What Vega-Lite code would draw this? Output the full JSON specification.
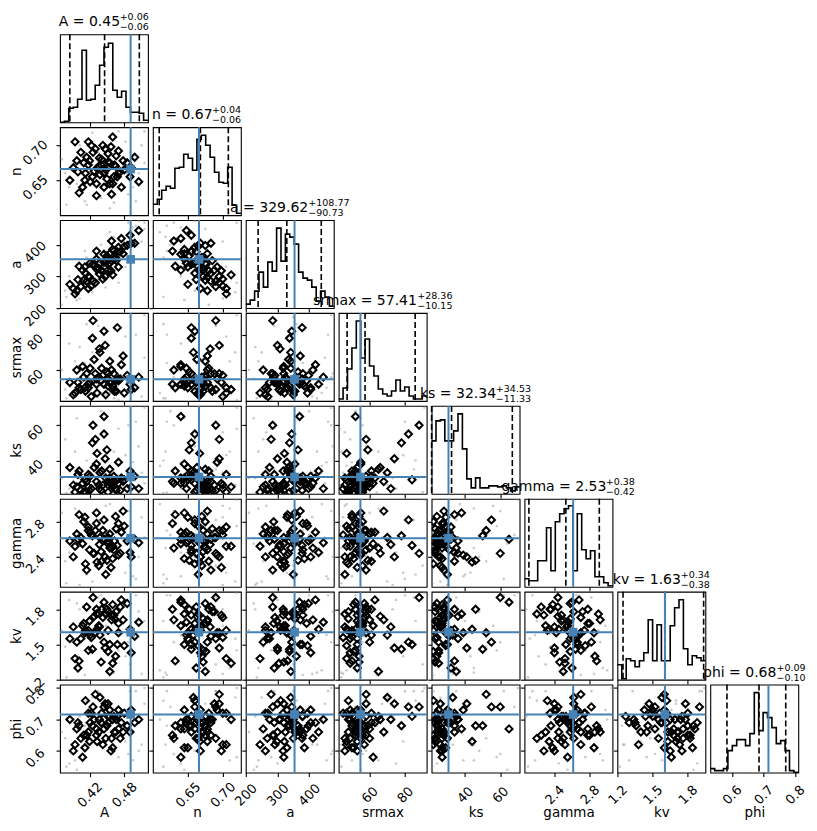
{
"$schema": "https://vega.github.io/schema/vega-lite/v6.json",
"padding": {"left": 8, "top": 11.3, "right": 5, "bottom": 5},
"background": "white",
"config": {
  "font": "DejaVu Sans",
  "view": {"stroke": "black", "strokeWidth": 1.1},
  "axis": {"domain": false, "grid": false, "ticks": true, "tickColor": "black", "tickSize": 4, "tickWidth": 1.1,
    "labelFont": "DejaVu Sans", "labelFontSize": 13, "labelColor": "black", "labelAngle": -45, "labelAlign": "center", "labelBaseline": "middle",
    "labelOverlap": false, "labelBound": false, "labelFlush": false, "labelPadding": 18,
    "titleFont": "DejaVu Sans", "titleFontSize": 13.5, "titleFontWeight": "normal", "titleColor": "black", "titleBaseline": "alphabetic"},
  "axisX": {"titleY": 44, "titleX": 44, "titleAlign": "center"},
  "axisY": {"titleX": -40, "titleY": 44, "titleAngle": -90, "titleAlign": "center", "labelOffset": 7, "labelPadding": 21},
  "title": {"anchor": "start", "frame": "group", "font": "DejaVu Sans", "fontSize": 14, "fontWeight": "normal", "color": "black",
    "subtitleFont": "DejaVu Sans", "subtitleFontSize": 9.5, "subtitleColor": "black", "subtitleLineHeight": 10, "subtitlePadding": -17, "offset": -1.5}
},
"datasets": {
"truth": [{"A":0.491,"n":0.666,"a":354,"srmax":54.8,"ks":30.6,"gamma":2.613,"kv":1.605,"phi":0.716}],
"quant": [
 {"q":0.16,"A":0.386,"n":0.609,"a":238.9,"srmax":47.26,"ks":21.01,"gamma":2.11,"kv":1.248,"phi":0.584},
 {"q":0.5,"A":0.446,"n":0.668,"a":329.6,"srmax":57.41,"ks":32.34,"gamma":2.53,"kv":1.605,"phi":0.686},
 {"q":0.84,"A":0.506,"n":0.708,"a":438.4,"srmax":85.77,"ks":66.87,"gamma":2.91,"kv":1.935,"phi":0.771}],
"samples": [
{"A":0.452,"n":0.668,"a":352,"srmax":55,"ks":28,"gamma":2.55,"kv":1.62,"phi":0.69},
{"A":0.418,"n":0.672,"a":300,"srmax":52,"ks":25,"gamma":2.70,"kv":1.45,"phi":0.66},
{"A":0.462,"n":0.655,"a":380,"srmax":58,"ks":31,"gamma":2.48,"kv":1.75,"phi":0.71},
{"A":0.405,"n":0.690,"a":268,"srmax":49,"ks":23,"gamma":2.62,"kv":1.55,"phi":0.64},
{"A":0.441,"n":0.680,"a":318,"srmax":61,"ks":34,"gamma":2.35,"kv":1.80,"phi":0.72},
{"A":0.470,"n":0.660,"a":392,"srmax":54,"ks":27,"gamma":2.78,"kv":1.68,"phi":0.67},
{"A":0.395,"n":0.705,"a":245,"srmax":47,"ks":22,"gamma":2.52,"kv":1.38,"phi":0.62},
{"A":0.428,"n":0.663,"a":335,"srmax":66,"ks":36,"gamma":2.44,"kv":1.74,"phi":0.70},
{"A":0.455,"n":0.645,"a":372,"srmax":53,"ks":30,"gamma":2.66,"kv":1.50,"phi":0.73},
{"A":0.485,"n":0.675,"a":398,"srmax":57,"ks":24,"gamma":2.58,"kv":1.85,"phi":0.68},
{"A":0.412,"n":0.650,"a":330,"srmax":50,"ks":29,"gamma":2.85,"kv":1.60,"phi":0.61},
{"A":0.447,"n":0.695,"a":300,"srmax":74,"ks":41,"gamma":2.40,"kv":1.47,"phi":0.75},
{"A":0.436,"n":0.670,"a":325,"srmax":56,"ks":26,"gamma":2.30,"kv":1.66,"phi":0.66},
{"A":0.466,"n":0.685,"a":350,"srmax":48,"ks":23,"gamma":2.72,"kv":1.78,"phi":0.70},
{"A":0.400,"n":0.662,"a":290,"srmax":53,"ks":32,"gamma":2.60,"kv":1.30,"phi":0.69},
{"A":0.458,"n":0.630,"a":412,"srmax":60,"ks":27,"gamma":2.50,"kv":1.71,"phi":0.64},
{"A":0.423,"n":0.700,"a":270,"srmax":45,"ks":24,"gamma":2.65,"kv":1.56,"phi":0.72},
{"A":0.490,"n":0.655,"a":430,"srmax":52,"ks":34,"gamma":2.45,"kv":1.63,"phi":0.66},
{"A":0.445,"n":0.660,"a":345,"srmax":82,"ks":55,"gamma":2.82,"kv":1.52,"phi":0.74},
{"A":0.415,"n":0.683,"a":285,"srmax":58,"ks":28,"gamma":2.25,"kv":1.82,"phi":0.65},
{"A":0.452,"n":0.676,"a":338,"srmax":51,"ks":22,"gamma":2.58,"kv":1.44,"phi":0.71},
{"A":0.475,"n":0.640,"a":420,"srmax":63,"ks":30,"gamma":2.68,"kv":1.88,"phi":0.69},
{"A":0.392,"n":0.668,"a":262,"srmax":46,"ks":26,"gamma":2.40,"kv":1.65,"phi":0.60},
{"A":0.432,"n":0.645,"a":355,"srmax":55,"ks":38,"gamma":2.90,"kv":1.76,"phi":0.67},
{"A":0.460,"n":0.712,"a":305,"srmax":49,"ks":25,"gamma":2.52,"kv":1.34,"phi":0.70},
{"A":0.438,"n":0.658,"a":342,"srmax":70,"ks":33,"gamma":2.62,"kv":1.58,"phi":0.77},
{"A":0.420,"n":0.678,"a":298,"srmax":53,"ks":23,"gamma":2.48,"kv":1.70,"phi":0.63},
{"A":0.480,"n":0.665,"a":395,"srmax":47,"ks":29,"gamma":2.75,"kv":1.49,"phi":0.72},
{"A":0.450,"n":0.652,"a":365,"srmax":59,"ks":46,"gamma":2.36,"kv":1.80,"phi":0.68},
{"A":0.408,"n":0.640,"a":320,"srmax":62,"ks":27,"gamma":2.55,"kv":1.66,"phi":0.58},
{"A":0.465,"n":0.670,"a":360,"srmax":54,"ks":24,"gamma":2.86,"kv":1.40,"phi":0.66},
{"A":0.426,"n":0.690,"a":285,"srmax":88,"ks":60,"gamma":2.44,"kv":1.90,"phi":0.74},
{"A":0.498,"n":0.683,"a":405,"srmax":50,"ks":31,"gamma":2.60,"kv":1.57,"phi":0.69},
{"A":0.443,"n":0.700,"a":292,"srmax":57,"ks":26,"gamma":2.70,"kv":1.73,"phi":0.62},
{"A":0.413,"n":0.660,"a":310,"srmax":48,"ks":22,"gamma":2.32,"kv":1.62,"phi":0.76},
{"A":0.455,"n":0.675,"a":342,"srmax":65,"ks":35,"gamma":2.50,"kv":1.27,"phi":0.71},
{"A":0.432,"n":0.628,"a":380,"srmax":52,"ks":28,"gamma":2.78,"kv":1.80,"phi":0.65},
{"A":0.470,"n":0.692,"a":330,"srmax":55,"ks":39,"gamma":2.42,"kv":1.60,"phi":0.73},
{"A":0.398,"n":0.678,"a":255,"srmax":60,"ks":25,"gamma":2.66,"kv":1.52,"phi":0.67},
{"A":0.448,"n":0.665,"a":350,"srmax":46,"ks":30,"gamma":2.20,"kv":1.76,"phi":0.64},
{"A":0.505,"n":0.648,"a":445,"srmax":56,"ks":24,"gamma":2.56,"kv":1.69,"phi":0.70},
{"A":0.425,"n":0.655,"a":338,"srmax":78,"ks":50,"gamma":2.64,"kv":1.46,"phi":0.68},
{"A":0.460,"n":0.645,"a":385,"srmax":51,"ks":27,"gamma":2.38,"kv":1.84,"phi":0.61},
{"A":0.418,"n":0.705,"a":262,"srmax":50,"ks":32,"gamma":2.74,"kv":1.62,"phi":0.72},
{"A":0.440,"n":0.672,"a":320,"srmax":54,"ks":23,"gamma":2.46,"kv":1.35,"phi":0.69},
{"A":0.478,"n":0.678,"a":372,"srmax":68,"ks":28,"gamma":2.92,"kv":1.71,"phi":0.66},
{"A":0.386,"n":0.650,"a":275,"srmax":53,"ks":36,"gamma":2.58,"kv":1.55,"phi":0.70},
{"A":0.452,"n":0.688,"a":320,"srmax":58,"ks":26,"gamma":2.62,"kv":1.78,"phi":0.75},
{"A":0.433,"n":0.667,"a":322,"srmax":47,"ks":44,"gamma":2.34,"kv":1.63,"phi":0.63},
{"A":0.468,"n":0.655,"a":378,"srmax":84,"ks":29,"gamma":2.53,"kv":1.50,"phi":0.71},
{"A":0.410,"n":0.675,"a":288,"srmax":56,"ks":22,"gamma":2.80,"kv":1.68,"phi":0.65},
{"A":0.445,"n":0.640,"a":370,"srmax":52,"ks":65,"gamma":2.60,"kv":1.86,"phi":0.67},
{"A":0.492,"n":0.668,"a":405,"srmax":49,"ks":25,"gamma":2.40,"kv":1.43,"phi":0.73},
{"A":0.421,"n":0.648,"a":342,"srmax":61,"ks":31,"gamma":2.68,"kv":1.58,"phi":0.69},
{"A":0.457,"n":0.698,"a":318,"srmax":53,"ks":27,"gamma":2.28,"kv":1.75,"phi":0.60},
{"A":0.437,"n":0.682,"a":308,"srmax":72,"ks":24,"gamma":2.54,"kv":1.65,"phi":0.70},
{"A":0.402,"n":0.632,"a":332,"srmax":50,"ks":34,"gamma":2.88,"kv":1.36,"phi":0.68},
{"A":0.473,"n":0.662,"a":378,"srmax":55,"ks":23,"gamma":2.44,"kv":1.82,"phi":0.64},
{"A":0.430,"n":0.695,"a":280,"srmax":58,"ks":52,"gamma":2.70,"kv":1.60,"phi":0.78},
{"A":0.463,"n":0.672,"a":355,"srmax":48,"ks":28,"gamma":2.58,"kv":1.72,"phi":0.66}
],
"tail": [
{"A":0.380,"n":0.615,"a":235,"srmax":44,"ks":21.5,"gamma":2.10,"kv":1.22,"phi":0.55},
{"A":0.515,"n":0.720,"a":470,"srmax":91,"ks":70,"gamma":3.05,"kv":1.94,"phi":0.80},
{"A":0.395,"n":0.710,"a":240,"srmax":65,"ks":45,"gamma":2.95,"kv":1.30,"phi":0.57},
{"A":0.500,"n":0.620,"a":460,"srmax":80,"ks":62,"gamma":2.15,"kv":1.92,"phi":0.79},
{"A":0.385,"n":0.640,"a":300,"srmax":75,"ks":24,"gamma":2.45,"kv":1.88,"phi":0.56},
{"A":0.510,"n":0.700,"a":410,"srmax":45,"ks":33,"gamma":2.85,"kv":1.25,"phi":0.62},
{"A":0.415,"n":0.615,"a":360,"srmax":86,"ks":40,"gamma":2.20,"kv":1.70,"phi":0.76},
{"A":0.470,"n":0.720,"a":280,"srmax":43,"ks":58,"gamma":2.75,"kv":1.45,"phi":0.58},
{"A":0.440,"n":0.625,"a":400,"srmax":52,"ks":68,"gamma":2.65,"kv":1.92,"phi":0.74},
{"A":0.490,"n":0.690,"a":350,"srmax":90,"ks":22,"gamma":2.30,"kv":1.33,"phi":0.79},
{"A":0.372,"n":0.680,"a":210,"srmax":60,"ks":30,"gamma":2.90,"kv":1.62,"phi":0.66},
{"A":0.505,"n":0.660,"a":475,"srmax":58,"ks":48,"gamma":2.40,"kv":1.78,"phi":0.60},
{"A":0.425,"n":0.718,"a":250,"srmax":70,"ks":26,"gamma":2.12,"kv":1.55,"phi":0.77},
{"A":0.455,"n":0.610,"a":440,"srmax":47,"ks":37,"gamma":3.00,"kv":1.28,"phi":0.70},
{"A":0.398,"n":0.645,"a":225,"srmax":55,"ks":64,"gamma":2.55,"kv":1.85,"phi":0.54},
{"A":0.482,"n":0.705,"a":330,"srmax":79,"ks":43,"gamma":2.22,"kv":1.40,"phi":0.63},
{"A":0.448,"n":0.700,"a":265,"srmax":46,"ks":56,"gamma":2.98,"kv":1.66,"phi":0.73},
{"A":0.412,"n":0.620,"a":380,"srmax":64,"ks":21.8,"gamma":2.70,"kv":1.24,"phi":0.68},
{"A":0.495,"n":0.640,"a":455,"srmax":50,"ks":39,"gamma":2.18,"kv":1.58,"phi":0.57},
{"A":0.435,"n":0.690,"a":290,"srmax":85,"ks":35,"gamma":2.82,"kv":1.90,"phi":0.79},
{"A":0.378,"n":0.660,"a":255,"srmax":49,"ks":52,"gamma":2.35,"kv":1.48,"phi":0.64},
{"A":0.515,"n":0.675,"a":450,"srmax":67,"ks":27,"gamma":2.62,"kv":1.70,"phi":0.75},
{"A":0.462,"n":0.618,"a":425,"srmax":44,"ks":45,"gamma":2.50,"kv":1.26,"phi":0.62},
{"A":0.403,"n":0.700,"a":230,"srmax":73,"ks":30,"gamma":2.08,"kv":1.80,"phi":0.71},
{"A":0.487,"n":0.630,"a":470,"srmax":56,"ks":60,"gamma":2.92,"kv":1.52,"phi":0.59}
],
"hist": [
{"p":"A","x":0.369,"c":0},{"p":"A","x":0.3766,"c":1},{"p":"A","x":0.3842,"c":14},{"p":"A","x":0.3918,"c":15},{"p":"A","x":0.3994,"c":23},{"p":"A","x":0.407,"c":72},{"p":"A","x":0.4146,"c":22},{"p":"A","x":0.4222,"c":23},{"p":"A","x":0.4298,"c":37},{"p":"A","x":0.4374,"c":57},{"p":"A","x":0.445,"c":75},{"p":"A","x":0.4526,"c":79},{"p":"A","x":0.4602,"c":32},{"p":"A","x":0.4678,"c":25},{"p":"A","x":0.4754,"c":31},{"p":"A","x":0.483,"c":15},{"p":"A","x":0.4906,"c":10},{"p":"A","x":0.4982,"c":10},{"p":"A","x":0.5058,"c":9},{"p":"A","x":0.5134,"c":2},{"p":"A","x":0.521,"c":2},
{"p":"n","x":0.6,"c":11},{"p":"n","x":0.6063,"c":16},{"p":"n","x":0.6126,"c":25},{"p":"n","x":0.6189,"c":29},{"p":"n","x":0.6252,"c":27},{"p":"n","x":0.6315,"c":47},{"p":"n","x":0.6378,"c":48},{"p":"n","x":0.6441,"c":61},{"p":"n","x":0.6504,"c":57},{"p":"n","x":0.6567,"c":45},{"p":"n","x":0.663,"c":76},{"p":"n","x":0.6693,"c":80},{"p":"n","x":0.6756,"c":70},{"p":"n","x":0.6819,"c":58},{"p":"n","x":0.6882,"c":43},{"p":"n","x":0.6945,"c":33},{"p":"n","x":0.7008,"c":32},{"p":"n","x":0.7071,"c":48},{"p":"n","x":0.7134,"c":10},{"p":"n","x":0.7197,"c":2},{"p":"n","x":0.726,"c":2},
{"p":"a","x":200,"c":4},{"p":"a","x":213.9,"c":8},{"p":"a","x":227.8,"c":17},{"p":"a","x":241.7,"c":36},{"p":"a","x":255.6,"c":21},{"p":"a","x":269.5,"c":46},{"p":"a","x":283.4,"c":37},{"p":"a","x":297.3,"c":80},{"p":"a","x":311.2,"c":47},{"p":"a","x":325.1,"c":74},{"p":"a","x":339,"c":71},{"p":"a","x":352.9,"c":64},{"p":"a","x":366.8,"c":36},{"p":"a","x":380.7,"c":30},{"p":"a","x":394.6,"c":28},{"p":"a","x":408.5,"c":21},{"p":"a","x":422.4,"c":7},{"p":"a","x":436.3,"c":17},{"p":"a","x":450.2,"c":11},{"p":"a","x":464.1,"c":2},{"p":"a","x":478,"c":2},
{"p":"srmax","x":42.5,"c":2},{"p":"srmax","x":44.99,"c":13},{"p":"srmax","x":47.48,"c":32},{"p":"srmax","x":49.97,"c":53},{"p":"srmax","x":52.46,"c":80},{"p":"srmax","x":54.95,"c":43},{"p":"srmax","x":57.44,"c":62},{"p":"srmax","x":59.93,"c":35},{"p":"srmax","x":62.42,"c":25},{"p":"srmax","x":64.91,"c":12},{"p":"srmax","x":67.4,"c":7},{"p":"srmax","x":69.89,"c":5},{"p":"srmax","x":72.38,"c":10},{"p":"srmax","x":74.87,"c":21},{"p":"srmax","x":77.36,"c":10},{"p":"srmax","x":79.85,"c":14},{"p":"srmax","x":82.34,"c":5},{"p":"srmax","x":84.83,"c":2},{"p":"srmax","x":87.32,"c":2},{"p":"srmax","x":89.81,"c":5},{"p":"srmax","x":92.3,"c":5},
{"p":"ks","x":21,"c":53},{"p":"ks","x":23.5,"c":73},{"p":"ks","x":26,"c":74},{"p":"ks","x":28.5,"c":53},{"p":"ks","x":31,"c":53},{"p":"ks","x":33.5,"c":63},{"p":"ks","x":36,"c":80},{"p":"ks","x":38.5,"c":45},{"p":"ks","x":41,"c":15},{"p":"ks","x":43.5,"c":6},{"p":"ks","x":46,"c":16},{"p":"ks","x":48.5,"c":6},{"p":"ks","x":51,"c":6},{"p":"ks","x":53.5,"c":8},{"p":"ks","x":56,"c":8},{"p":"ks","x":58.5,"c":7},{"p":"ks","x":61,"c":8},{"p":"ks","x":63.5,"c":6},{"p":"ks","x":66,"c":3},{"p":"ks","x":68.5,"c":7},{"p":"ks","x":71,"c":7},
{"p":"gamma","x":2.06,"c":8},{"p":"gamma","x":2.11,"c":6},{"p":"gamma","x":2.16,"c":6},{"p":"gamma","x":2.21,"c":26},{"p":"gamma","x":2.26,"c":26},{"p":"gamma","x":2.31,"c":59},{"p":"gamma","x":2.36,"c":16},{"p":"gamma","x":2.41,"c":65},{"p":"gamma","x":2.46,"c":73},{"p":"gamma","x":2.51,"c":78},{"p":"gamma","x":2.56,"c":81},{"p":"gamma","x":2.61,"c":16},{"p":"gamma","x":2.66,"c":73},{"p":"gamma","x":2.71,"c":37},{"p":"gamma","x":2.76,"c":28},{"p":"gamma","x":2.81,"c":36},{"p":"gamma","x":2.86,"c":10},{"p":"gamma","x":2.91,"c":10},{"p":"gamma","x":2.96,"c":4},{"p":"gamma","x":3.01,"c":1},{"p":"gamma","x":3.06,"c":1},
{"p":"kv","x":1.2,"c":15},{"p":"kv","x":1.2375,"c":1},{"p":"kv","x":1.275,"c":21},{"p":"kv","x":1.3125,"c":19},{"p":"kv","x":1.35,"c":13},{"p":"kv","x":1.3875,"c":19},{"p":"kv","x":1.425,"c":27},{"p":"kv","x":1.4625,"c":60},{"p":"kv","x":1.5,"c":19},{"p":"kv","x":1.5375,"c":55},{"p":"kv","x":1.575,"c":19},{"p":"kv","x":1.6125,"c":19},{"p":"kv","x":1.65,"c":54},{"p":"kv","x":1.6875,"c":72},{"p":"kv","x":1.725,"c":80},{"p":"kv","x":1.7625,"c":31},{"p":"kv","x":1.8,"c":15},{"p":"kv","x":1.8375,"c":24},{"p":"kv","x":1.875,"c":22},{"p":"kv","x":1.9125,"c":19},{"p":"kv","x":1.95,"c":19},
{"p":"phi","x":0.531,"c":4},{"p":"phi","x":0.545,"c":2},{"p":"phi","x":0.559,"c":2},{"p":"phi","x":0.573,"c":4},{"p":"phi","x":0.587,"c":22},{"p":"phi","x":0.601,"c":27},{"p":"phi","x":0.615,"c":33},{"p":"phi","x":0.629,"c":33},{"p":"phi","x":0.643,"c":27},{"p":"phi","x":0.657,"c":39},{"p":"phi","x":0.671,"c":80},{"p":"phi","x":0.685,"c":42},{"p":"phi","x":0.699,"c":60},{"p":"phi","x":0.713,"c":55},{"p":"phi","x":0.727,"c":45},{"p":"phi","x":0.741,"c":29},{"p":"phi","x":0.755,"c":32},{"p":"phi","x":0.769,"c":22},{"p":"phi","x":0.783,"c":2},{"p":"phi","x":0.797,"c":0.3},{"p":"phi","x":0.811,"c":0.3}
]
},
"bounds": "flush",
"spacing": 4.9,
"columns": 8,
"concat": [
 {"width":88,"height":88,"title":{"text":"A = 0.45","dx":-1.2,"subtitle":["\u200b\u2003\u2003\u2003\u2003\u2003\u2003\u2005\u2006+0.06","\u200b\u2003\u2003\u2003\u2003\u2003\u2003\u2005\u2006\u22120.06"]},"layer":[
  {"data":{"name":"hist"},"transform":[{"filter":"datum.p === 'A'"}],"mark":{"type":"line","interpolate":"step-after","color":"black","strokeWidth":1.6},"encoding":{"x":{"field":"x","type":"quantitative","title":null,"scale":{"domain":[0.369,0.521],"nice":false,"zero":false},"axis":{"values":[0.42,0.48],"labels":false}},"y":{"field":"c","type":"quantitative","scale":{"domain":[0,88],"nice":false},"axis":null}}},
  {"data":{"name":"quant"},"mark":{"type":"rule","color":"black","strokeWidth":1.6,"strokeDash":[6,3]},"encoding":{"x":{"field":"A","type":"quantitative","title":null}}},
  {"data":{"name":"truth"},"mark":{"type":"rule","color":"#4682b4","strokeWidth":2},"encoding":{"x":{"field":"A","type":"quantitative","title":null}}}
 ]},
 {"width":88,"height":88,"view":{"stroke":null},"data":{"name":"truth"},"mark":{"type":"point","opacity":0},"encoding":{}},
 {"width":88,"height":88,"view":{"stroke":null},"data":{"name":"truth"},"mark":{"type":"point","opacity":0},"encoding":{}},
 {"width":88,"height":88,"view":{"stroke":null},"data":{"name":"truth"},"mark":{"type":"point","opacity":0},"encoding":{}},
 {"width":88,"height":88,"view":{"stroke":null},"data":{"name":"truth"},"mark":{"type":"point","opacity":0},"encoding":{}},
 {"width":88,"height":88,"view":{"stroke":null},"data":{"name":"truth"},"mark":{"type":"point","opacity":0},"encoding":{}},
 {"width":88,"height":88,"view":{"stroke":null},"data":{"name":"truth"},"mark":{"type":"point","opacity":0},"encoding":{}},
 {"width":88,"height":88,"view":{"stroke":null},"data":{"name":"truth"},"mark":{"type":"point","opacity":0},"encoding":{}},

 {"width":88,"height":88,"layer":[
  {"data":{"name":"tail"},"mark":{"type":"point","filled":true,"size":7,"color":"#8c8c8c","opacity":0.45,"clip":true},"encoding":{"x":{"field":"A","type":"quantitative","title":null,"scale":{"domain":[0.369,0.521],"nice":false,"zero":false},"axis":{"values":[0.42,0.48],"labels":false}},"y":{"field":"n","type":"quantitative","title":"n","scale":{"domain":[0.6,0.726],"nice":false,"zero":false},"axis":{"values":[0.65,0.7],"format":".2f"}}}},
  {"data":{"name":"samples"},"mark":{"type":"point","shape":"diamond","filled":false,"size":50,"color":"black","strokeWidth":2,"opacity":1,"clip":true},"encoding":{"x":{"field":"A","type":"quantitative","title":null},"y":{"field":"n","type":"quantitative","title":"n"}}},
  {"data":{"name":"truth"},"mark":{"type":"rule","color":"#4682b4","strokeWidth":2},"encoding":{"x":{"field":"A","type":"quantitative","title":null}}},
  {"data":{"name":"truth"},"mark":{"type":"rule","color":"#4682b4","strokeWidth":2},"encoding":{"y":{"field":"n","type":"quantitative","title":"n"}}},
  {"data":{"name":"truth"},"mark":{"type":"point","shape":"square","filled":true,"size":75,"color":"#4682b4","opacity":1},"encoding":{"x":{"field":"A","type":"quantitative","title":null},"y":{"field":"n","type":"quantitative","title":"n"}}}
 ]},
 {"width":88,"height":88,"title":{"text":"n = 0.67","dx":-0.9,"subtitle":["\u200b\u2003\u2003\u2003\u2003\u2003\u2003\u2004+0.04","\u200b\u2003\u2003\u2003\u2003\u2003\u2003\u2004\u22120.06"]},"layer":[
  {"data":{"name":"hist"},"transform":[{"filter":"datum.p === 'n'"}],"mark":{"type":"line","interpolate":"step-after","color":"black","strokeWidth":1.6},"encoding":{"x":{"field":"x","type":"quantitative","title":null,"scale":{"domain":[0.6,0.726],"nice":false,"zero":false},"axis":{"values":[0.65,0.7],"labels":false}},"y":{"field":"c","type":"quantitative","scale":{"domain":[0,88],"nice":false},"axis":null}}},
  {"data":{"name":"quant"},"mark":{"type":"rule","color":"black","strokeWidth":1.6,"strokeDash":[6,3]},"encoding":{"x":{"field":"n","type":"quantitative","title":null}}},
  {"data":{"name":"truth"},"mark":{"type":"rule","color":"#4682b4","strokeWidth":2},"encoding":{"x":{"field":"n","type":"quantitative","title":null}}}
 ]},
 {"width":88,"height":88,"view":{"stroke":null},"data":{"name":"truth"},"mark":{"type":"point","opacity":0},"encoding":{}},
 {"width":88,"height":88,"view":{"stroke":null},"data":{"name":"truth"},"mark":{"type":"point","opacity":0},"encoding":{}},
 {"width":88,"height":88,"view":{"stroke":null},"data":{"name":"truth"},"mark":{"type":"point","opacity":0},"encoding":{}},
 {"width":88,"height":88,"view":{"stroke":null},"data":{"name":"truth"},"mark":{"type":"point","opacity":0},"encoding":{}},
 {"width":88,"height":88,"view":{"stroke":null},"data":{"name":"truth"},"mark":{"type":"point","opacity":0},"encoding":{}},
 {"width":88,"height":88,"view":{"stroke":null},"data":{"name":"truth"},"mark":{"type":"point","opacity":0},"encoding":{}},

 {"width":88,"height":88,"layer":[
  {"data":{"name":"tail"},"mark":{"type":"point","filled":true,"size":7,"color":"#8c8c8c","opacity":0.45,"clip":true},"encoding":{"x":{"field":"A","type":"quantitative","title":null,"scale":{"domain":[0.369,0.521],"nice":false,"zero":false},"axis":{"values":[0.42,0.48],"labels":false}},"y":{"field":"a","type":"quantitative","title":"a","scale":{"domain":[200,478],"nice":false,"zero":false},"axis":{"values":[200,300,400],"format":"d"}}}},
  {"data":{"name":"samples"},"mark":{"type":"point","shape":"diamond","filled":false,"size":50,"color":"black","strokeWidth":2,"opacity":1,"clip":true},"encoding":{"x":{"field":"A","type":"quantitative","title":null},"y":{"field":"a","type":"quantitative","title":"a"}}},
  {"data":{"name":"truth"},"mark":{"type":"rule","color":"#4682b4","strokeWidth":2},"encoding":{"x":{"field":"A","type":"quantitative","title":null}}},
  {"data":{"name":"truth"},"mark":{"type":"rule","color":"#4682b4","strokeWidth":2},"encoding":{"y":{"field":"a","type":"quantitative","title":"a"}}},
  {"data":{"name":"truth"},"mark":{"type":"point","shape":"square","filled":true,"size":75,"color":"#4682b4","opacity":1},"encoding":{"x":{"field":"A","type":"quantitative","title":null},"y":{"field":"a","type":"quantitative","title":"a"}}}
 ]},
 {"width":88,"height":88,"layer":[
  {"data":{"name":"tail"},"mark":{"type":"point","filled":true,"size":7,"color":"#8c8c8c","opacity":0.45,"clip":true},"encoding":{"x":{"field":"n","type":"quantitative","title":null,"scale":{"domain":[0.6,0.726],"nice":false,"zero":false},"axis":{"values":[0.65,0.7],"labels":false}},"y":{"field":"a","type":"quantitative","title":null,"scale":{"domain":[200,478],"nice":false,"zero":false},"axis":{"values":[200,300,400],"labels":false}}}},
  {"data":{"name":"samples"},"mark":{"type":"point","shape":"diamond","filled":false,"size":50,"color":"black","strokeWidth":2,"opacity":1,"clip":true},"encoding":{"x":{"field":"n","type":"quantitative","title":null},"y":{"field":"a","type":"quantitative","title":null}}},
  {"data":{"name":"truth"},"mark":{"type":"rule","color":"#4682b4","strokeWidth":2},"encoding":{"x":{"field":"n","type":"quantitative","title":null}}},
  {"data":{"name":"truth"},"mark":{"type":"rule","color":"#4682b4","strokeWidth":2},"encoding":{"y":{"field":"a","type":"quantitative","title":null}}},
  {"data":{"name":"truth"},"mark":{"type":"point","shape":"square","filled":true,"size":75,"color":"#4682b4","opacity":1},"encoding":{"x":{"field":"n","type":"quantitative","title":null},"y":{"field":"a","type":"quantitative","title":null}}}
 ]},
 {"width":88,"height":88,"title":{"text":"a = 329.62","dx":-15.7,"subtitle":["\u200b\u2003\u2003\u2003\u2003\u2003\u2003\u2003\u2003\u2005+108.77","\u200b\u2003\u2003\u2003\u2003\u2003\u2003\u2003\u2003\u2005\u221290.73"]},"layer":[
  {"data":{"name":"hist"},"transform":[{"filter":"datum.p === 'a'"}],"mark":{"type":"line","interpolate":"step-after","color":"black","strokeWidth":1.6},"encoding":{"x":{"field":"x","type":"quantitative","title":null,"scale":{"domain":[200,478],"nice":false,"zero":false},"axis":{"values":[200,300,400],"labels":false}},"y":{"field":"c","type":"quantitative","scale":{"domain":[0,88],"nice":false},"axis":null}}},
  {"data":{"name":"quant"},"mark":{"type":"rule","color":"black","strokeWidth":1.6,"strokeDash":[6,3]},"encoding":{"x":{"field":"a","type":"quantitative","title":null}}},
  {"data":{"name":"truth"},"mark":{"type":"rule","color":"#4682b4","strokeWidth":2},"encoding":{"x":{"field":"a","type":"quantitative","title":null}}}
 ]},
 {"width":88,"height":88,"view":{"stroke":null},"data":{"name":"truth"},"mark":{"type":"point","opacity":0},"encoding":{}},
 {"width":88,"height":88,"view":{"stroke":null},"data":{"name":"truth"},"mark":{"type":"point","opacity":0},"encoding":{}},
 {"width":88,"height":88,"view":{"stroke":null},"data":{"name":"truth"},"mark":{"type":"point","opacity":0},"encoding":{}},
 {"width":88,"height":88,"view":{"stroke":null},"data":{"name":"truth"},"mark":{"type":"point","opacity":0},"encoding":{}},
 {"width":88,"height":88,"view":{"stroke":null},"data":{"name":"truth"},"mark":{"type":"point","opacity":0},"encoding":{}},

 {"width":88,"height":88,"layer":[
  {"data":{"name":"tail"},"mark":{"type":"point","filled":true,"size":7,"color":"#8c8c8c","opacity":0.45,"clip":true},"encoding":{"x":{"field":"A","type":"quantitative","title":null,"scale":{"domain":[0.369,0.521],"nice":false,"zero":false},"axis":{"values":[0.42,0.48],"labels":false}},"y":{"field":"srmax","type":"quantitative","title":"srmax","scale":{"domain":[42.5,92.3],"nice":false,"zero":false},"axis":{"values":[60,80],"format":"d"}}}},
  {"data":{"name":"samples"},"mark":{"type":"point","shape":"diamond","filled":false,"size":50,"color":"black","strokeWidth":2,"opacity":1,"clip":true},"encoding":{"x":{"field":"A","type":"quantitative","title":null},"y":{"field":"srmax","type":"quantitative","title":"srmax"}}},
  {"data":{"name":"truth"},"mark":{"type":"rule","color":"#4682b4","strokeWidth":2},"encoding":{"x":{"field":"A","type":"quantitative","title":null}}},
  {"data":{"name":"truth"},"mark":{"type":"rule","color":"#4682b4","strokeWidth":2},"encoding":{"y":{"field":"srmax","type":"quantitative","title":"srmax"}}},
  {"data":{"name":"truth"},"mark":{"type":"point","shape":"square","filled":true,"size":75,"color":"#4682b4","opacity":1},"encoding":{"x":{"field":"A","type":"quantitative","title":null},"y":{"field":"srmax","type":"quantitative","title":"srmax"}}}
 ]},
 {"width":88,"height":88,"layer":[
  {"data":{"name":"tail"},"mark":{"type":"point","filled":true,"size":7,"color":"#8c8c8c","opacity":0.45,"clip":true},"encoding":{"x":{"field":"n","type":"quantitative","title":null,"scale":{"domain":[0.6,0.726],"nice":false,"zero":false},"axis":{"values":[0.65,0.7],"labels":false}},"y":{"field":"srmax","type":"quantitative","title":null,"scale":{"domain":[42.5,92.3],"nice":false,"zero":false},"axis":{"values":[60,80],"labels":false}}}},
  {"data":{"name":"samples"},"mark":{"type":"point","shape":"diamond","filled":false,"size":50,"color":"black","strokeWidth":2,"opacity":1,"clip":true},"encoding":{"x":{"field":"n","type":"quantitative","title":null},"y":{"field":"srmax","type":"quantitative","title":null}}},
  {"data":{"name":"truth"},"mark":{"type":"rule","color":"#4682b4","strokeWidth":2},"encoding":{"x":{"field":"n","type":"quantitative","title":null}}},
  {"data":{"name":"truth"},"mark":{"type":"rule","color":"#4682b4","strokeWidth":2},"encoding":{"y":{"field":"srmax","type":"quantitative","title":null}}},
  {"data":{"name":"truth"},"mark":{"type":"point","shape":"square","filled":true,"size":75,"color":"#4682b4","opacity":1},"encoding":{"x":{"field":"n","type":"quantitative","title":null},"y":{"field":"srmax","type":"quantitative","title":null}}}
 ]},
 {"width":88,"height":88,"layer":[
  {"data":{"name":"tail"},"mark":{"type":"point","filled":true,"size":7,"color":"#8c8c8c","opacity":0.45,"clip":true},"encoding":{"x":{"field":"a","type":"quantitative","title":null,"scale":{"domain":[200,478],"nice":false,"zero":false},"axis":{"values":[200,300,400],"labels":false}},"y":{"field":"srmax","type":"quantitative","title":null,"scale":{"domain":[42.5,92.3],"nice":false,"zero":false},"axis":{"values":[60,80],"labels":false}}}},
  {"data":{"name":"samples"},"mark":{"type":"point","shape":"diamond","filled":false,"size":50,"color":"black","strokeWidth":2,"opacity":1,"clip":true},"encoding":{"x":{"field":"a","type":"quantitative","title":null},"y":{"field":"srmax","type":"quantitative","title":null}}},
  {"data":{"name":"truth"},"mark":{"type":"rule","color":"#4682b4","strokeWidth":2},"encoding":{"x":{"field":"a","type":"quantitative","title":null}}},
  {"data":{"name":"truth"},"mark":{"type":"rule","color":"#4682b4","strokeWidth":2},"encoding":{"y":{"field":"srmax","type":"quantitative","title":null}}},
  {"data":{"name":"truth"},"mark":{"type":"point","shape":"square","filled":true,"size":75,"color":"#4682b4","opacity":1},"encoding":{"x":{"field":"a","type":"quantitative","title":null},"y":{"field":"srmax","type":"quantitative","title":null}}}
 ]},
 {"width":88,"height":88,"title":{"text":"srmax = 57.41","dx":-25.7,"subtitle":["\u200b\u2003\u2003\u2003\u2003\u2003\u2003\u2003\u2003\u2003\u2003\u2003+28.36","\u200b\u2003\u2003\u2003\u2003\u2003\u2003\u2003\u2003\u2003\u2003\u2003\u221210.15"]},"layer":[
  {"data":{"name":"hist"},"transform":[{"filter":"datum.p === 'srmax'"}],"mark":{"type":"line","interpolate":"step-after","color":"black","strokeWidth":1.6},"encoding":{"x":{"field":"x","type":"quantitative","title":null,"scale":{"domain":[42.5,92.3],"nice":false,"zero":false},"axis":{"values":[60,80],"labels":false}},"y":{"field":"c","type":"quantitative","scale":{"domain":[0,88],"nice":false},"axis":null}}},
  {"data":{"name":"quant"},"mark":{"type":"rule","color":"black","strokeWidth":1.6,"strokeDash":[6,3]},"encoding":{"x":{"field":"srmax","type":"quantitative","title":null}}},
  {"data":{"name":"truth"},"mark":{"type":"rule","color":"#4682b4","strokeWidth":2},"encoding":{"x":{"field":"srmax","type":"quantitative","title":null}}}
 ]},
 {"width":88,"height":88,"view":{"stroke":null},"data":{"name":"truth"},"mark":{"type":"point","opacity":0},"encoding":{}},
 {"width":88,"height":88,"view":{"stroke":null},"data":{"name":"truth"},"mark":{"type":"point","opacity":0},"encoding":{}},
 {"width":88,"height":88,"view":{"stroke":null},"data":{"name":"truth"},"mark":{"type":"point","opacity":0},"encoding":{}},
 {"width":88,"height":88,"view":{"stroke":null},"data":{"name":"truth"},"mark":{"type":"point","opacity":0},"encoding":{}},

 {"width":88,"height":88,"layer":[
  {"data":{"name":"tail"},"mark":{"type":"point","filled":true,"size":7,"color":"#8c8c8c","opacity":0.45,"clip":true},"encoding":{"x":{"field":"A","type":"quantitative","title":null,"scale":{"domain":[0.369,0.521],"nice":false,"zero":false},"axis":{"values":[0.42,0.48],"labels":false}},"y":{"field":"ks","type":"quantitative","title":"ks","scale":{"domain":[21,71],"nice":false,"zero":false},"axis":{"values":[40,60],"format":"d"}}}},
  {"data":{"name":"samples"},"mark":{"type":"point","shape":"diamond","filled":false,"size":50,"color":"black","strokeWidth":2,"opacity":1,"clip":true},"encoding":{"x":{"field":"A","type":"quantitative","title":null},"y":{"field":"ks","type":"quantitative","title":"ks"}}},
  {"data":{"name":"truth"},"mark":{"type":"rule","color":"#4682b4","strokeWidth":2},"encoding":{"x":{"field":"A","type":"quantitative","title":null}}},
  {"data":{"name":"truth"},"mark":{"type":"rule","color":"#4682b4","strokeWidth":2},"encoding":{"y":{"field":"ks","type":"quantitative","title":"ks"}}},
  {"data":{"name":"truth"},"mark":{"type":"point","shape":"square","filled":true,"size":75,"color":"#4682b4","opacity":1},"encoding":{"x":{"field":"A","type":"quantitative","title":null},"y":{"field":"ks","type":"quantitative","title":"ks"}}}
 ]},
 {"width":88,"height":88,"layer":[
  {"data":{"name":"tail"},"mark":{"type":"point","filled":true,"size":7,"color":"#8c8c8c","opacity":0.45,"clip":true},"encoding":{"x":{"field":"n","type":"quantitative","title":null,"scale":{"domain":[0.6,0.726],"nice":false,"zero":false},"axis":{"values":[0.65,0.7],"labels":false}},"y":{"field":"ks","type":"quantitative","title":null,"scale":{"domain":[21,71],"nice":false,"zero":false},"axis":{"values":[40,60],"labels":false}}}},
  {"data":{"name":"samples"},"mark":{"type":"point","shape":"diamond","filled":false,"size":50,"color":"black","strokeWidth":2,"opacity":1,"clip":true},"encoding":{"x":{"field":"n","type":"quantitative","title":null},"y":{"field":"ks","type":"quantitative","title":null}}},
  {"data":{"name":"truth"},"mark":{"type":"rule","color":"#4682b4","strokeWidth":2},"encoding":{"x":{"field":"n","type":"quantitative","title":null}}},
  {"data":{"name":"truth"},"mark":{"type":"rule","color":"#4682b4","strokeWidth":2},"encoding":{"y":{"field":"ks","type":"quantitative","title":null}}},
  {"data":{"name":"truth"},"mark":{"type":"point","shape":"square","filled":true,"size":75,"color":"#4682b4","opacity":1},"encoding":{"x":{"field":"n","type":"quantitative","title":null},"y":{"field":"ks","type":"quantitative","title":null}}}
 ]},
 {"width":88,"height":88,"layer":[
  {"data":{"name":"tail"},"mark":{"type":"point","filled":true,"size":7,"color":"#8c8c8c","opacity":0.45,"clip":true},"encoding":{"x":{"field":"a","type":"quantitative","title":null,"scale":{"domain":[200,478],"nice":false,"zero":false},"axis":{"values":[200,300,400],"labels":false}},"y":{"field":"ks","type":"quantitative","title":null,"scale":{"domain":[21,71],"nice":false,"zero":false},"axis":{"values":[40,60],"labels":false}}}},
  {"data":{"name":"samples"},"mark":{"type":"point","shape":"diamond","filled":false,"size":50,"color":"black","strokeWidth":2,"opacity":1,"clip":true},"encoding":{"x":{"field":"a","type":"quantitative","title":null},"y":{"field":"ks","type":"quantitative","title":null}}},
  {"data":{"name":"truth"},"mark":{"type":"rule","color":"#4682b4","strokeWidth":2},"encoding":{"x":{"field":"a","type":"quantitative","title":null}}},
  {"data":{"name":"truth"},"mark":{"type":"rule","color":"#4682b4","strokeWidth":2},"encoding":{"y":{"field":"ks","type":"quantitative","title":null}}},
  {"data":{"name":"truth"},"mark":{"type":"point","shape":"square","filled":true,"size":75,"color":"#4682b4","opacity":1},"encoding":{"x":{"field":"a","type":"quantitative","title":null},"y":{"field":"ks","type":"quantitative","title":null}}}
 ]},
 {"width":88,"height":88,"layer":[
  {"data":{"name":"tail"},"mark":{"type":"point","filled":true,"size":7,"color":"#8c8c8c","opacity":0.45,"clip":true},"encoding":{"x":{"field":"srmax","type":"quantitative","title":null,"scale":{"domain":[42.5,92.3],"nice":false,"zero":false},"axis":{"values":[60,80],"labels":false}},"y":{"field":"ks","type":"quantitative","title":null,"scale":{"domain":[21,71],"nice":false,"zero":false},"axis":{"values":[40,60],"labels":false}}}},
  {"data":{"name":"samples"},"mark":{"type":"point","shape":"diamond","filled":false,"size":50,"color":"black","strokeWidth":2,"opacity":1,"clip":true},"encoding":{"x":{"field":"srmax","type":"quantitative","title":null},"y":{"field":"ks","type":"quantitative","title":null}}},
  {"data":{"name":"truth"},"mark":{"type":"rule","color":"#4682b4","strokeWidth":2},"encoding":{"x":{"field":"srmax","type":"quantitative","title":null}}},
  {"data":{"name":"truth"},"mark":{"type":"rule","color":"#4682b4","strokeWidth":2},"encoding":{"y":{"field":"ks","type":"quantitative","title":null}}},
  {"data":{"name":"truth"},"mark":{"type":"point","shape":"square","filled":true,"size":75,"color":"#4682b4","opacity":1},"encoding":{"x":{"field":"srmax","type":"quantitative","title":null},"y":{"field":"ks","type":"quantitative","title":null}}}
 ]},
 {"width":88,"height":88,"title":{"text":"ks = 32.34","dx":-11.6,"subtitle":["\u200b\u2003\u2003\u2003\u2003\u2003\u2003\u2003\u2003+34.53","\u200b\u2003\u2003\u2003\u2003\u2003\u2003\u2003\u2003\u221211.33"]},"layer":[
  {"data":{"name":"hist"},"transform":[{"filter":"datum.p === 'ks'"}],"mark":{"type":"line","interpolate":"step-after","color":"black","strokeWidth":1.6},"encoding":{"x":{"field":"x","type":"quantitative","title":null,"scale":{"domain":[21,71],"nice":false,"zero":false},"axis":{"values":[40,60],"labels":false}},"y":{"field":"c","type":"quantitative","scale":{"domain":[0,88],"nice":false},"axis":null}}},
  {"data":{"name":"quant"},"mark":{"type":"rule","color":"black","strokeWidth":1.6,"strokeDash":[6,3]},"encoding":{"x":{"field":"ks","type":"quantitative","title":null}}},
  {"data":{"name":"truth"},"mark":{"type":"rule","color":"#4682b4","strokeWidth":2},"encoding":{"x":{"field":"ks","type":"quantitative","title":null}}}
 ]},
 {"width":88,"height":88,"view":{"stroke":null},"data":{"name":"truth"},"mark":{"type":"point","opacity":0},"encoding":{}},
 {"width":88,"height":88,"view":{"stroke":null},"data":{"name":"truth"},"mark":{"type":"point","opacity":0},"encoding":{}},
 {"width":88,"height":88,"view":{"stroke":null},"data":{"name":"truth"},"mark":{"type":"point","opacity":0},"encoding":{}},

 {"width":88,"height":88,"layer":[
  {"data":{"name":"tail"},"mark":{"type":"point","filled":true,"size":7,"color":"#8c8c8c","opacity":0.45,"clip":true},"encoding":{"x":{"field":"A","type":"quantitative","title":null,"scale":{"domain":[0.369,0.521],"nice":false,"zero":false},"axis":{"values":[0.42,0.48],"labels":false}},"y":{"field":"gamma","type":"quantitative","title":"gamma","scale":{"domain":[2.06,3.06],"nice":false,"zero":false},"axis":{"values":[2.4,2.8],"format":".1f"}}}},
  {"data":{"name":"samples"},"mark":{"type":"point","shape":"diamond","filled":false,"size":50,"color":"black","strokeWidth":2,"opacity":1,"clip":true},"encoding":{"x":{"field":"A","type":"quantitative","title":null},"y":{"field":"gamma","type":"quantitative","title":"gamma"}}},
  {"data":{"name":"truth"},"mark":{"type":"rule","color":"#4682b4","strokeWidth":2},"encoding":{"x":{"field":"A","type":"quantitative","title":null}}},
  {"data":{"name":"truth"},"mark":{"type":"rule","color":"#4682b4","strokeWidth":2},"encoding":{"y":{"field":"gamma","type":"quantitative","title":"gamma"}}},
  {"data":{"name":"truth"},"mark":{"type":"point","shape":"square","filled":true,"size":75,"color":"#4682b4","opacity":1},"encoding":{"x":{"field":"A","type":"quantitative","title":null},"y":{"field":"gamma","type":"quantitative","title":"gamma"}}}
 ]},
 {"width":88,"height":88,"layer":[
  {"data":{"name":"tail"},"mark":{"type":"point","filled":true,"size":7,"color":"#8c8c8c","opacity":0.45,"clip":true},"encoding":{"x":{"field":"n","type":"quantitative","title":null,"scale":{"domain":[0.6,0.726],"nice":false,"zero":false},"axis":{"values":[0.65,0.7],"labels":false}},"y":{"field":"gamma","type":"quantitative","title":null,"scale":{"domain":[2.06,3.06],"nice":false,"zero":false},"axis":{"values":[2.4,2.8],"labels":false}}}},
  {"data":{"name":"samples"},"mark":{"type":"point","shape":"diamond","filled":false,"size":50,"color":"black","strokeWidth":2,"opacity":1,"clip":true},"encoding":{"x":{"field":"n","type":"quantitative","title":null},"y":{"field":"gamma","type":"quantitative","title":null}}},
  {"data":{"name":"truth"},"mark":{"type":"rule","color":"#4682b4","strokeWidth":2},"encoding":{"x":{"field":"n","type":"quantitative","title":null}}},
  {"data":{"name":"truth"},"mark":{"type":"rule","color":"#4682b4","strokeWidth":2},"encoding":{"y":{"field":"gamma","type":"quantitative","title":null}}},
  {"data":{"name":"truth"},"mark":{"type":"point","shape":"square","filled":true,"size":75,"color":"#4682b4","opacity":1},"encoding":{"x":{"field":"n","type":"quantitative","title":null},"y":{"field":"gamma","type":"quantitative","title":null}}}
 ]},
 {"width":88,"height":88,"layer":[
  {"data":{"name":"tail"},"mark":{"type":"point","filled":true,"size":7,"color":"#8c8c8c","opacity":0.45,"clip":true},"encoding":{"x":{"field":"a","type":"quantitative","title":null,"scale":{"domain":[200,478],"nice":false,"zero":false},"axis":{"values":[200,300,400],"labels":false}},"y":{"field":"gamma","type":"quantitative","title":null,"scale":{"domain":[2.06,3.06],"nice":false,"zero":false},"axis":{"values":[2.4,2.8],"labels":false}}}},
  {"data":{"name":"samples"},"mark":{"type":"point","shape":"diamond","filled":false,"size":50,"color":"black","strokeWidth":2,"opacity":1,"clip":true},"encoding":{"x":{"field":"a","type":"quantitative","title":null},"y":{"field":"gamma","type":"quantitative","title":null}}},
  {"data":{"name":"truth"},"mark":{"type":"rule","color":"#4682b4","strokeWidth":2},"encoding":{"x":{"field":"a","type":"quantitative","title":null}}},
  {"data":{"name":"truth"},"mark":{"type":"rule","color":"#4682b4","strokeWidth":2},"encoding":{"y":{"field":"gamma","type":"quantitative","title":null}}},
  {"data":{"name":"truth"},"mark":{"type":"point","shape":"square","filled":true,"size":75,"color":"#4682b4","opacity":1},"encoding":{"x":{"field":"a","type":"quantitative","title":null},"y":{"field":"gamma","type":"quantitative","title":null}}}
 ]},
 {"width":88,"height":88,"layer":[
  {"data":{"name":"tail"},"mark":{"type":"point","filled":true,"size":7,"color":"#8c8c8c","opacity":0.45,"clip":true},"encoding":{"x":{"field":"srmax","type":"quantitative","title":null,"scale":{"domain":[42.5,92.3],"nice":false,"zero":false},"axis":{"values":[60,80],"labels":false}},"y":{"field":"gamma","type":"quantitative","title":null,"scale":{"domain":[2.06,3.06],"nice":false,"zero":false},"axis":{"values":[2.4,2.8],"labels":false}}}},
  {"data":{"name":"samples"},"mark":{"type":"point","shape":"diamond","filled":false,"size":50,"color":"black","strokeWidth":2,"opacity":1,"clip":true},"encoding":{"x":{"field":"srmax","type":"quantitative","title":null},"y":{"field":"gamma","type":"quantitative","title":null}}},
  {"data":{"name":"truth"},"mark":{"type":"rule","color":"#4682b4","strokeWidth":2},"encoding":{"x":{"field":"srmax","type":"quantitative","title":null}}},
  {"data":{"name":"truth"},"mark":{"type":"rule","color":"#4682b4","strokeWidth":2},"encoding":{"y":{"field":"gamma","type":"quantitative","title":null}}},
  {"data":{"name":"truth"},"mark":{"type":"point","shape":"square","filled":true,"size":75,"color":"#4682b4","opacity":1},"encoding":{"x":{"field":"srmax","type":"quantitative","title":null},"y":{"field":"gamma","type":"quantitative","title":null}}}
 ]},
 {"width":88,"height":88,"layer":[
  {"data":{"name":"tail"},"mark":{"type":"point","filled":true,"size":7,"color":"#8c8c8c","opacity":0.45,"clip":true},"encoding":{"x":{"field":"ks","type":"quantitative","title":null,"scale":{"domain":[21,71],"nice":false,"zero":false},"axis":{"values":[40,60],"labels":false}},"y":{"field":"gamma","type":"quantitative","title":null,"scale":{"domain":[2.06,3.06],"nice":false,"zero":false},"axis":{"values":[2.4,2.8],"labels":false}}}},
  {"data":{"name":"samples"},"mark":{"type":"point","shape":"diamond","filled":false,"size":50,"color":"black","strokeWidth":2,"opacity":1,"clip":true},"encoding":{"x":{"field":"ks","type":"quantitative","title":null},"y":{"field":"gamma","type":"quantitative","title":null}}},
  {"data":{"name":"truth"},"mark":{"type":"rule","color":"#4682b4","strokeWidth":2},"encoding":{"x":{"field":"ks","type":"quantitative","title":null}}},
  {"data":{"name":"truth"},"mark":{"type":"rule","color":"#4682b4","strokeWidth":2},"encoding":{"y":{"field":"gamma","type":"quantitative","title":null}}},
  {"data":{"name":"truth"},"mark":{"type":"point","shape":"square","filled":true,"size":75,"color":"#4682b4","opacity":1},"encoding":{"x":{"field":"ks","type":"quantitative","title":null},"y":{"field":"gamma","type":"quantitative","title":null}}}
 ]},
 {"width":88,"height":88,"title":{"text":"gamma = 2.53","dx":-23.1,"subtitle":["\u200b\u2003\u2003\u2003\u2003\u2003\u2003\u2003\u2003\u2003\u2003\u2003+0.38","\u200b\u2003\u2003\u2003\u2003\u2003\u2003\u2003\u2003\u2003\u2003\u2003\u22120.42"]},"layer":[
  {"data":{"name":"hist"},"transform":[{"filter":"datum.p === 'gamma'"}],"mark":{"type":"line","interpolate":"step-after","color":"black","strokeWidth":1.6},"encoding":{"x":{"field":"x","type":"quantitative","title":null,"scale":{"domain":[2.06,3.06],"nice":false,"zero":false},"axis":{"values":[2.4,2.8],"labels":false}},"y":{"field":"c","type":"quantitative","scale":{"domain":[0,88],"nice":false},"axis":null}}},
  {"data":{"name":"quant"},"mark":{"type":"rule","color":"black","strokeWidth":1.6,"strokeDash":[6,3]},"encoding":{"x":{"field":"gamma","type":"quantitative","title":null}}},
  {"data":{"name":"truth"},"mark":{"type":"rule","color":"#4682b4","strokeWidth":2},"encoding":{"x":{"field":"gamma","type":"quantitative","title":null}}}
 ]},
 {"width":88,"height":88,"view":{"stroke":null},"data":{"name":"truth"},"mark":{"type":"point","opacity":0},"encoding":{}},
 {"width":88,"height":88,"view":{"stroke":null},"data":{"name":"truth"},"mark":{"type":"point","opacity":0},"encoding":{}},

 {"width":88,"height":88,"layer":[
  {"data":{"name":"tail"},"mark":{"type":"point","filled":true,"size":7,"color":"#8c8c8c","opacity":0.45,"clip":true},"encoding":{"x":{"field":"A","type":"quantitative","title":null,"scale":{"domain":[0.369,0.521],"nice":false,"zero":false},"axis":{"values":[0.42,0.48],"labels":false}},"y":{"field":"kv","type":"quantitative","title":"kv","scale":{"domain":[1.2,1.95],"nice":false,"zero":false},"axis":{"values":[1.2,1.5,1.8],"format":".1f"}}}},
  {"data":{"name":"samples"},"mark":{"type":"point","shape":"diamond","filled":false,"size":50,"color":"black","strokeWidth":2,"opacity":1,"clip":true},"encoding":{"x":{"field":"A","type":"quantitative","title":null},"y":{"field":"kv","type":"quantitative","title":"kv"}}},
  {"data":{"name":"truth"},"mark":{"type":"rule","color":"#4682b4","strokeWidth":2},"encoding":{"x":{"field":"A","type":"quantitative","title":null}}},
  {"data":{"name":"truth"},"mark":{"type":"rule","color":"#4682b4","strokeWidth":2},"encoding":{"y":{"field":"kv","type":"quantitative","title":"kv"}}},
  {"data":{"name":"truth"},"mark":{"type":"point","shape":"square","filled":true,"size":75,"color":"#4682b4","opacity":1},"encoding":{"x":{"field":"A","type":"quantitative","title":null},"y":{"field":"kv","type":"quantitative","title":"kv"}}}
 ]},
 {"width":88,"height":88,"layer":[
  {"data":{"name":"tail"},"mark":{"type":"point","filled":true,"size":7,"color":"#8c8c8c","opacity":0.45,"clip":true},"encoding":{"x":{"field":"n","type":"quantitative","title":null,"scale":{"domain":[0.6,0.726],"nice":false,"zero":false},"axis":{"values":[0.65,0.7],"labels":false}},"y":{"field":"kv","type":"quantitative","title":null,"scale":{"domain":[1.2,1.95],"nice":false,"zero":false},"axis":{"values":[1.2,1.5,1.8],"labels":false}}}},
  {"data":{"name":"samples"},"mark":{"type":"point","shape":"diamond","filled":false,"size":50,"color":"black","strokeWidth":2,"opacity":1,"clip":true},"encoding":{"x":{"field":"n","type":"quantitative","title":null},"y":{"field":"kv","type":"quantitative","title":null}}},
  {"data":{"name":"truth"},"mark":{"type":"rule","color":"#4682b4","strokeWidth":2},"encoding":{"x":{"field":"n","type":"quantitative","title":null}}},
  {"data":{"name":"truth"},"mark":{"type":"rule","color":"#4682b4","strokeWidth":2},"encoding":{"y":{"field":"kv","type":"quantitative","title":null}}},
  {"data":{"name":"truth"},"mark":{"type":"point","shape":"square","filled":true,"size":75,"color":"#4682b4","opacity":1},"encoding":{"x":{"field":"n","type":"quantitative","title":null},"y":{"field":"kv","type":"quantitative","title":null}}}
 ]},
 {"width":88,"height":88,"layer":[
  {"data":{"name":"tail"},"mark":{"type":"point","filled":true,"size":7,"color":"#8c8c8c","opacity":0.45,"clip":true},"encoding":{"x":{"field":"a","type":"quantitative","title":null,"scale":{"domain":[200,478],"nice":false,"zero":false},"axis":{"values":[200,300,400],"labels":false}},"y":{"field":"kv","type":"quantitative","title":null,"scale":{"domain":[1.2,1.95],"nice":false,"zero":false},"axis":{"values":[1.2,1.5,1.8],"labels":false}}}},
  {"data":{"name":"samples"},"mark":{"type":"point","shape":"diamond","filled":false,"size":50,"color":"black","strokeWidth":2,"opacity":1,"clip":true},"encoding":{"x":{"field":"a","type":"quantitative","title":null},"y":{"field":"kv","type":"quantitative","title":null}}},
  {"data":{"name":"truth"},"mark":{"type":"rule","color":"#4682b4","strokeWidth":2},"encoding":{"x":{"field":"a","type":"quantitative","title":null}}},
  {"data":{"name":"truth"},"mark":{"type":"rule","color":"#4682b4","strokeWidth":2},"encoding":{"y":{"field":"kv","type":"quantitative","title":null}}},
  {"data":{"name":"truth"},"mark":{"type":"point","shape":"square","filled":true,"size":75,"color":"#4682b4","opacity":1},"encoding":{"x":{"field":"a","type":"quantitative","title":null},"y":{"field":"kv","type":"quantitative","title":null}}}
 ]},
 {"width":88,"height":88,"layer":[
  {"data":{"name":"tail"},"mark":{"type":"point","filled":true,"size":7,"color":"#8c8c8c","opacity":0.45,"clip":true},"encoding":{"x":{"field":"srmax","type":"quantitative","title":null,"scale":{"domain":[42.5,92.3],"nice":false,"zero":false},"axis":{"values":[60,80],"labels":false}},"y":{"field":"kv","type":"quantitative","title":null,"scale":{"domain":[1.2,1.95],"nice":false,"zero":false},"axis":{"values":[1.2,1.5,1.8],"labels":false}}}},
  {"data":{"name":"samples"},"mark":{"type":"point","shape":"diamond","filled":false,"size":50,"color":"black","strokeWidth":2,"opacity":1,"clip":true},"encoding":{"x":{"field":"srmax","type":"quantitative","title":null},"y":{"field":"kv","type":"quantitative","title":null}}},
  {"data":{"name":"truth"},"mark":{"type":"rule","color":"#4682b4","strokeWidth":2},"encoding":{"x":{"field":"srmax","type":"quantitative","title":null}}},
  {"data":{"name":"truth"},"mark":{"type":"rule","color":"#4682b4","strokeWidth":2},"encoding":{"y":{"field":"kv","type":"quantitative","title":null}}},
  {"data":{"name":"truth"},"mark":{"type":"point","shape":"square","filled":true,"size":75,"color":"#4682b4","opacity":1},"encoding":{"x":{"field":"srmax","type":"quantitative","title":null},"y":{"field":"kv","type":"quantitative","title":null}}}
 ]},
 {"width":88,"height":88,"layer":[
  {"data":{"name":"tail"},"mark":{"type":"point","filled":true,"size":7,"color":"#8c8c8c","opacity":0.45,"clip":true},"encoding":{"x":{"field":"ks","type":"quantitative","title":null,"scale":{"domain":[21,71],"nice":false,"zero":false},"axis":{"values":[40,60],"labels":false}},"y":{"field":"kv","type":"quantitative","title":null,"scale":{"domain":[1.2,1.95],"nice":false,"zero":false},"axis":{"values":[1.2,1.5,1.8],"labels":false}}}},
  {"data":{"name":"samples"},"mark":{"type":"point","shape":"diamond","filled":false,"size":50,"color":"black","strokeWidth":2,"opacity":1,"clip":true},"encoding":{"x":{"field":"ks","type":"quantitative","title":null},"y":{"field":"kv","type":"quantitative","title":null}}},
  {"data":{"name":"truth"},"mark":{"type":"rule","color":"#4682b4","strokeWidth":2},"encoding":{"x":{"field":"ks","type":"quantitative","title":null}}},
  {"data":{"name":"truth"},"mark":{"type":"rule","color":"#4682b4","strokeWidth":2},"encoding":{"y":{"field":"kv","type":"quantitative","title":null}}},
  {"data":{"name":"truth"},"mark":{"type":"point","shape":"square","filled":true,"size":75,"color":"#4682b4","opacity":1},"encoding":{"x":{"field":"ks","type":"quantitative","title":null},"y":{"field":"kv","type":"quantitative","title":null}}}
 ]},
 {"width":88,"height":88,"layer":[
  {"data":{"name":"tail"},"mark":{"type":"point","filled":true,"size":7,"color":"#8c8c8c","opacity":0.45,"clip":true},"encoding":{"x":{"field":"gamma","type":"quantitative","title":null,"scale":{"domain":[2.06,3.06],"nice":false,"zero":false},"axis":{"values":[2.4,2.8],"labels":false}},"y":{"field":"kv","type":"quantitative","title":null,"scale":{"domain":[1.2,1.95],"nice":false,"zero":false},"axis":{"values":[1.2,1.5,1.8],"labels":false}}}},
  {"data":{"name":"samples"},"mark":{"type":"point","shape":"diamond","filled":false,"size":50,"color":"black","strokeWidth":2,"opacity":1,"clip":true},"encoding":{"x":{"field":"gamma","type":"quantitative","title":null},"y":{"field":"kv","type":"quantitative","title":null}}},
  {"data":{"name":"truth"},"mark":{"type":"rule","color":"#4682b4","strokeWidth":2},"encoding":{"x":{"field":"gamma","type":"quantitative","title":null}}},
  {"data":{"name":"truth"},"mark":{"type":"rule","color":"#4682b4","strokeWidth":2},"encoding":{"y":{"field":"kv","type":"quantitative","title":null}}},
  {"data":{"name":"truth"},"mark":{"type":"point","shape":"square","filled":true,"size":75,"color":"#4682b4","opacity":1},"encoding":{"x":{"field":"gamma","type":"quantitative","title":null},"y":{"field":"kv","type":"quantitative","title":null}}}
 ]},
 {"width":88,"height":88,"title":{"text":"kv = 1.63","dx":-4.6,"subtitle":["\u200b\u2003\u2003\u2003\u2003\u2003\u2003\u2003\u2006+0.34","\u200b\u2003\u2003\u2003\u2003\u2003\u2003\u2003\u2006\u22120.38"]},"layer":[
  {"data":{"name":"hist"},"transform":[{"filter":"datum.p === 'kv'"}],"mark":{"type":"line","interpolate":"step-after","color":"black","strokeWidth":1.6},"encoding":{"x":{"field":"x","type":"quantitative","title":null,"scale":{"domain":[1.2,1.95],"nice":false,"zero":false},"axis":{"values":[1.2,1.5,1.8],"labels":false}},"y":{"field":"c","type":"quantitative","scale":{"domain":[0,88],"nice":false},"axis":null}}},
  {"data":{"name":"quant"},"mark":{"type":"rule","color":"black","strokeWidth":1.6,"strokeDash":[6,3]},"encoding":{"x":{"field":"kv","type":"quantitative","title":null}}},
  {"data":{"name":"truth"},"mark":{"type":"rule","color":"#4682b4","strokeWidth":2},"encoding":{"x":{"field":"kv","type":"quantitative","title":null}}}
 ]},
 {"width":88,"height":88,"view":{"stroke":null},"data":{"name":"truth"},"mark":{"type":"point","opacity":0},"encoding":{}},

 {"width":88,"height":88,"layer":[
  {"data":{"name":"tail"},"mark":{"type":"point","filled":true,"size":7,"color":"#8c8c8c","opacity":0.45,"clip":true},"encoding":{"x":{"field":"A","type":"quantitative","title":"A","scale":{"domain":[0.369,0.521],"nice":false,"zero":false},"axis":{"values":[0.42,0.48],"format":".2f"}},"y":{"field":"phi","type":"quantitative","title":"phi","scale":{"domain":[0.531,0.811],"nice":false,"zero":false},"axis":{"values":[0.6,0.7,0.8],"format":".1f"}}}},
  {"data":{"name":"samples"},"mark":{"type":"point","shape":"diamond","filled":false,"size":50,"color":"black","strokeWidth":2,"opacity":1,"clip":true},"encoding":{"x":{"field":"A","type":"quantitative","title":"A"},"y":{"field":"phi","type":"quantitative","title":"phi"}}},
  {"data":{"name":"truth"},"mark":{"type":"rule","color":"#4682b4","strokeWidth":2},"encoding":{"x":{"field":"A","type":"quantitative","title":"A"}}},
  {"data":{"name":"truth"},"mark":{"type":"rule","color":"#4682b4","strokeWidth":2},"encoding":{"y":{"field":"phi","type":"quantitative","title":"phi"}}},
  {"data":{"name":"truth"},"mark":{"type":"point","shape":"square","filled":true,"size":75,"color":"#4682b4","opacity":1},"encoding":{"x":{"field":"A","type":"quantitative","title":"A"},"y":{"field":"phi","type":"quantitative","title":"phi"}}}
 ]},
 {"width":88,"height":88,"layer":[
  {"data":{"name":"tail"},"mark":{"type":"point","filled":true,"size":7,"color":"#8c8c8c","opacity":0.45,"clip":true},"encoding":{"x":{"field":"n","type":"quantitative","title":"n","scale":{"domain":[0.6,0.726],"nice":false,"zero":false},"axis":{"values":[0.65,0.7],"format":".2f"}},"y":{"field":"phi","type":"quantitative","title":null,"scale":{"domain":[0.531,0.811],"nice":false,"zero":false},"axis":{"values":[0.6,0.7,0.8],"labels":false}}}},
  {"data":{"name":"samples"},"mark":{"type":"point","shape":"diamond","filled":false,"size":50,"color":"black","strokeWidth":2,"opacity":1,"clip":true},"encoding":{"x":{"field":"n","type":"quantitative","title":"n"},"y":{"field":"phi","type":"quantitative","title":null}}},
  {"data":{"name":"truth"},"mark":{"type":"rule","color":"#4682b4","strokeWidth":2},"encoding":{"x":{"field":"n","type":"quantitative","title":"n"}}},
  {"data":{"name":"truth"},"mark":{"type":"rule","color":"#4682b4","strokeWidth":2},"encoding":{"y":{"field":"phi","type":"quantitative","title":null}}},
  {"data":{"name":"truth"},"mark":{"type":"point","shape":"square","filled":true,"size":75,"color":"#4682b4","opacity":1},"encoding":{"x":{"field":"n","type":"quantitative","title":"n"},"y":{"field":"phi","type":"quantitative","title":null}}}
 ]},
 {"width":88,"height":88,"layer":[
  {"data":{"name":"tail"},"mark":{"type":"point","filled":true,"size":7,"color":"#8c8c8c","opacity":0.45,"clip":true},"encoding":{"x":{"field":"a","type":"quantitative","title":"a","scale":{"domain":[200,478],"nice":false,"zero":false},"axis":{"values":[200,300,400],"format":"d"}},"y":{"field":"phi","type":"quantitative","title":null,"scale":{"domain":[0.531,0.811],"nice":false,"zero":false},"axis":{"values":[0.6,0.7,0.8],"labels":false}}}},
  {"data":{"name":"samples"},"mark":{"type":"point","shape":"diamond","filled":false,"size":50,"color":"black","strokeWidth":2,"opacity":1,"clip":true},"encoding":{"x":{"field":"a","type":"quantitative","title":"a"},"y":{"field":"phi","type":"quantitative","title":null}}},
  {"data":{"name":"truth"},"mark":{"type":"rule","color":"#4682b4","strokeWidth":2},"encoding":{"x":{"field":"a","type":"quantitative","title":"a"}}},
  {"data":{"name":"truth"},"mark":{"type":"rule","color":"#4682b4","strokeWidth":2},"encoding":{"y":{"field":"phi","type":"quantitative","title":null}}},
  {"data":{"name":"truth"},"mark":{"type":"point","shape":"square","filled":true,"size":75,"color":"#4682b4","opacity":1},"encoding":{"x":{"field":"a","type":"quantitative","title":"a"},"y":{"field":"phi","type":"quantitative","title":null}}}
 ]},
 {"width":88,"height":88,"layer":[
  {"data":{"name":"tail"},"mark":{"type":"point","filled":true,"size":7,"color":"#8c8c8c","opacity":0.45,"clip":true},"encoding":{"x":{"field":"srmax","type":"quantitative","title":"srmax","scale":{"domain":[42.5,92.3],"nice":false,"zero":false},"axis":{"values":[60,80],"format":"d"}},"y":{"field":"phi","type":"quantitative","title":null,"scale":{"domain":[0.531,0.811],"nice":false,"zero":false},"axis":{"values":[0.6,0.7,0.8],"labels":false}}}},
  {"data":{"name":"samples"},"mark":{"type":"point","shape":"diamond","filled":false,"size":50,"color":"black","strokeWidth":2,"opacity":1,"clip":true},"encoding":{"x":{"field":"srmax","type":"quantitative","title":"srmax"},"y":{"field":"phi","type":"quantitative","title":null}}},
  {"data":{"name":"truth"},"mark":{"type":"rule","color":"#4682b4","strokeWidth":2},"encoding":{"x":{"field":"srmax","type":"quantitative","title":"srmax"}}},
  {"data":{"name":"truth"},"mark":{"type":"rule","color":"#4682b4","strokeWidth":2},"encoding":{"y":{"field":"phi","type":"quantitative","title":null}}},
  {"data":{"name":"truth"},"mark":{"type":"point","shape":"square","filled":true,"size":75,"color":"#4682b4","opacity":1},"encoding":{"x":{"field":"srmax","type":"quantitative","title":"srmax"},"y":{"field":"phi","type":"quantitative","title":null}}}
 ]},
 {"width":88,"height":88,"layer":[
  {"data":{"name":"tail"},"mark":{"type":"point","filled":true,"size":7,"color":"#8c8c8c","opacity":0.45,"clip":true},"encoding":{"x":{"field":"ks","type":"quantitative","title":"ks","scale":{"domain":[21,71],"nice":false,"zero":false},"axis":{"values":[40,60],"format":"d"}},"y":{"field":"phi","type":"quantitative","title":null,"scale":{"domain":[0.531,0.811],"nice":false,"zero":false},"axis":{"values":[0.6,0.7,0.8],"labels":false}}}},
  {"data":{"name":"samples"},"mark":{"type":"point","shape":"diamond","filled":false,"size":50,"color":"black","strokeWidth":2,"opacity":1,"clip":true},"encoding":{"x":{"field":"ks","type":"quantitative","title":"ks"},"y":{"field":"phi","type":"quantitative","title":null}}},
  {"data":{"name":"truth"},"mark":{"type":"rule","color":"#4682b4","strokeWidth":2},"encoding":{"x":{"field":"ks","type":"quantitative","title":"ks"}}},
  {"data":{"name":"truth"},"mark":{"type":"rule","color":"#4682b4","strokeWidth":2},"encoding":{"y":{"field":"phi","type":"quantitative","title":null}}},
  {"data":{"name":"truth"},"mark":{"type":"point","shape":"square","filled":true,"size":75,"color":"#4682b4","opacity":1},"encoding":{"x":{"field":"ks","type":"quantitative","title":"ks"},"y":{"field":"phi","type":"quantitative","title":null}}}
 ]},
 {"width":88,"height":88,"layer":[
  {"data":{"name":"tail"},"mark":{"type":"point","filled":true,"size":7,"color":"#8c8c8c","opacity":0.45,"clip":true},"encoding":{"x":{"field":"gamma","type":"quantitative","title":"gamma","scale":{"domain":[2.06,3.06],"nice":false,"zero":false},"axis":{"values":[2.4,2.8],"format":".1f"}},"y":{"field":"phi","type":"quantitative","title":null,"scale":{"domain":[0.531,0.811],"nice":false,"zero":false},"axis":{"values":[0.6,0.7,0.8],"labels":false}}}},
  {"data":{"name":"samples"},"mark":{"type":"point","shape":"diamond","filled":false,"size":50,"color":"black","strokeWidth":2,"opacity":1,"clip":true},"encoding":{"x":{"field":"gamma","type":"quantitative","title":"gamma"},"y":{"field":"phi","type":"quantitative","title":null}}},
  {"data":{"name":"truth"},"mark":{"type":"rule","color":"#4682b4","strokeWidth":2},"encoding":{"x":{"field":"gamma","type":"quantitative","title":"gamma"}}},
  {"data":{"name":"truth"},"mark":{"type":"rule","color":"#4682b4","strokeWidth":2},"encoding":{"y":{"field":"phi","type":"quantitative","title":null}}},
  {"data":{"name":"truth"},"mark":{"type":"point","shape":"square","filled":true,"size":75,"color":"#4682b4","opacity":1},"encoding":{"x":{"field":"gamma","type":"quantitative","title":"gamma"},"y":{"field":"phi","type":"quantitative","title":null}}}
 ]},
 {"width":88,"height":88,"layer":[
  {"data":{"name":"tail"},"mark":{"type":"point","filled":true,"size":7,"color":"#8c8c8c","opacity":0.45,"clip":true},"encoding":{"x":{"field":"kv","type":"quantitative","title":"kv","scale":{"domain":[1.2,1.95],"nice":false,"zero":false},"axis":{"values":[1.2,1.5,1.8],"format":".1f"}},"y":{"field":"phi","type":"quantitative","title":null,"scale":{"domain":[0.531,0.811],"nice":false,"zero":false},"axis":{"values":[0.6,0.7,0.8],"labels":false}}}},
  {"data":{"name":"samples"},"mark":{"type":"point","shape":"diamond","filled":false,"size":50,"color":"black","strokeWidth":2,"opacity":1,"clip":true},"encoding":{"x":{"field":"kv","type":"quantitative","title":"kv"},"y":{"field":"phi","type":"quantitative","title":null}}},
  {"data":{"name":"truth"},"mark":{"type":"rule","color":"#4682b4","strokeWidth":2},"encoding":{"x":{"field":"kv","type":"quantitative","title":"kv"}}},
  {"data":{"name":"truth"},"mark":{"type":"rule","color":"#4682b4","strokeWidth":2},"encoding":{"y":{"field":"phi","type":"quantitative","title":null}}},
  {"data":{"name":"truth"},"mark":{"type":"point","shape":"square","filled":true,"size":75,"color":"#4682b4","opacity":1},"encoding":{"x":{"field":"kv","type":"quantitative","title":"kv"},"y":{"field":"phi","type":"quantitative","title":null}}}
 ]},
 {"width":88,"height":88,"title":{"text":"phi = 0.68","dx":-7.3,"subtitle":["\u200b\u2003\u2003\u2003\u2003\u2003\u2003\u2003\u2002\u2005+0.09","\u200b\u2003\u2003\u2003\u2003\u2003\u2003\u2003\u2002\u2005\u22120.10"]},"layer":[
  {"data":{"name":"hist"},"transform":[{"filter":"datum.p === 'phi'"}],"mark":{"type":"line","interpolate":"step-after","color":"black","strokeWidth":1.6},"encoding":{"x":{"field":"x","type":"quantitative","title":"phi","scale":{"domain":[0.531,0.811],"nice":false,"zero":false},"axis":{"values":[0.6,0.7,0.8],"format":".1f"}},"y":{"field":"c","type":"quantitative","scale":{"domain":[0,88],"nice":false},"axis":null}}},
  {"data":{"name":"quant"},"mark":{"type":"rule","color":"black","strokeWidth":1.6,"strokeDash":[6,3]},"encoding":{"x":{"field":"phi","type":"quantitative","title":"phi"}}},
  {"data":{"name":"truth"},"mark":{"type":"rule","color":"#4682b4","strokeWidth":2},"encoding":{"x":{"field":"phi","type":"quantitative","title":"phi"}}}
 ]}
]
}
